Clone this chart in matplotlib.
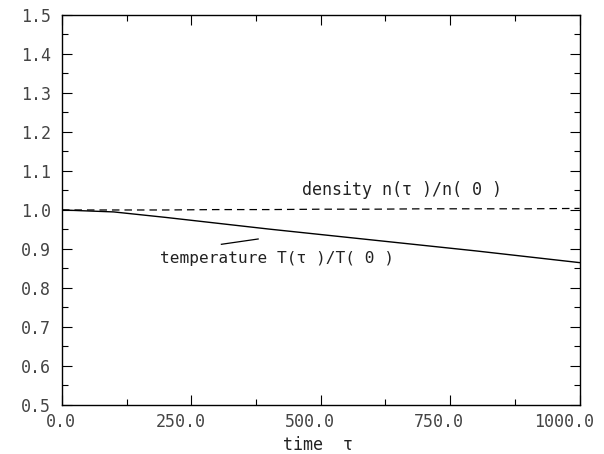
import matplotlib
matplotlib.use("Agg")
import matplotlib.pyplot as plt
import matplotlib.transforms as mtransforms
from matplotlib.ticker import MultipleLocator

# data
tau = [0, 100, 200, 300, 400, 500, 600, 700, 800, 900, 1000]
temperature = [1.000, 0.995, 0.981, 0.966, 0.951, 0.937, 0.923, 0.909, 0.895, 0.880, 0.865]
density = [1.000, 1.000, 1.000, 1.001, 1.001, 1.002, 1.002, 1.003, 1.003, 1.003, 1.004]

x_ticks = [0, 250, 500, 750, 1000]
x_labels = ["0.0", "250.0", "500.0", "750.0", "1000.0"]
y_ticks = [0.5, 0.6, 0.7, 0.8, 0.9, 1.0, 1.1, 1.2, 1.3, 1.4, 1.5]
y_labels = ["0.5", "0.6", "0.7", "0.8", "0.9", "1.0", "1.1", "1.2", "1.3", "1.4", "1.5"]

# plotter-like wide glyphs
plt.rcParams['font.family'] = ['DejaVu Sans Mono']

fig = plt.figure(figsize=(6.04, 4.54), dpi=100)
ax = fig.add_axes([0.1026, 0.108, 0.857, 0.859])

ax.plot(tau, temperature, color='black', linewidth=1.0)
ax.plot(tau, density, color='black', linewidth=0.9, dashes=(6, 4))

ax.set_xlim(0, 1000)
ax.set_ylim(0.5, 1.5)

ax.set_xticks(x_ticks)
ax.set_xticklabels(x_labels, fontsize=12, color='#444444', ha='right')
ax.set_yticks(y_ticks)
ax.set_yticklabels(y_labels, fontsize=12, color='#444444')
ax.xaxis.set_minor_locator(MultipleLocator(125))
ax.yaxis.set_minor_locator(MultipleLocator(0.05))

ax.tick_params(which='both', direction='in', top=True, right=True, width=0.8)
ax.tick_params(which='major', length=7)
ax.tick_params(which='minor', length=4)
ax.tick_params(axis='x', which='major', pad=6)
ax.tick_params(axis='y', which='major', pad=8)
for s in ax.spines.values():
    s.set_linewidth(1.0)

# decimal point sits on the tick: shift right-aligned labels a bit right
shift = mtransforms.ScaledTranslation(14 / 100, 0, fig.dpi_scale_trans)
for lab in ax.get_xticklabels():
    lab.set_transform(lab.get_transform() + shift)

ax.set_xlabel("time  τ", fontsize=12, color='#222222', va='center')
ax.xaxis.set_label_coords(0.494, -0.103)

# curve labels
ax.text(0.463, 0.551, "density n(τ )/n( 0 )", transform=ax.transAxes,
        fontsize=12, color='#222222', ha='left', va='center')
ax.text(0.189, 0.375, "temperature T(τ )/T( 0 )", transform=ax.transAxes,
        fontsize=11.6, color='#222222', ha='left', va='center')
ax.plot([308, 379], [0.912, 0.9256], color='black', linewidth=0.9)

fig.savefig("out.png", dpi=100, facecolor='white')
